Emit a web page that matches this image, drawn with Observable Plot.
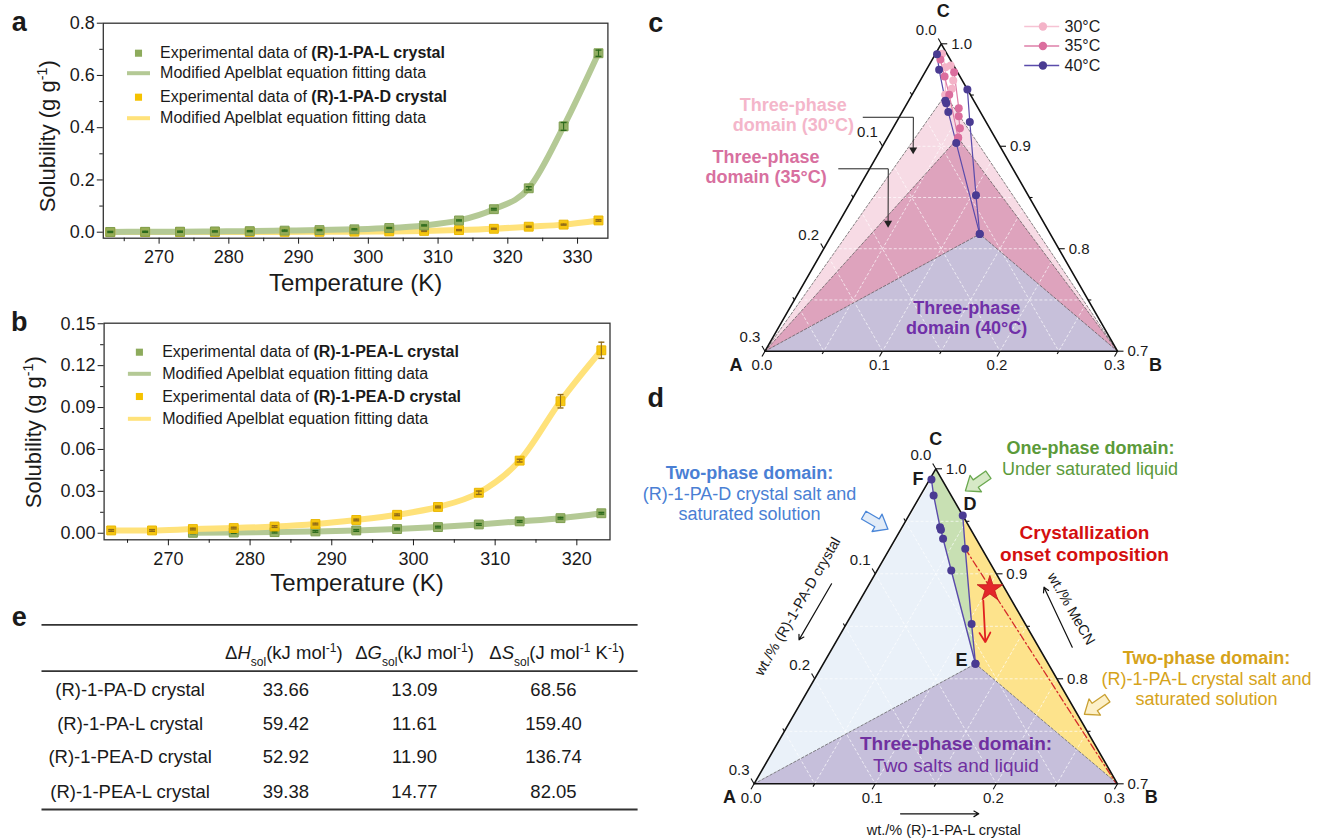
<!DOCTYPE html>
<html><head><meta charset="utf-8">
<script src="https://cdn.jsdelivr.net/npm/d3@7"></script>
<script src="https://cdn.jsdelivr.net/npm/@observablehq/plot@0.6"></script>
<style>
html,body{margin:0;padding:0;background:#fff;}
#fig{position:relative;width:1321px;height:839px;overflow:hidden;background:#fff;}
.panel{position:absolute;}
.panel svg{display:block;overflow:visible;}
</style></head><body><div id="fig"></div>
<script>
// ================= DATA =================
// panel a : (R)-1-PA salts
const tempA   = [263,268,273,278,283,288,293,298,303,308,313,318,323,328,333];
const paL     = [0.001,0.0015,0.002,0.003,0.004,0.006,0.008,0.011,0.016,0.026,0.045,0.088,0.168,0.405,0.685];
const paLErr  = [0.002,0.002,0.002,0.002,0.002,0.002,0.002,0.002,0.002,0.002,0.002,0.003,0.006,0.015,0.012];
const paD     = [0.0003,0.0004,0.0005,0.0007,0.0009,0.0012,0.0016,0.002,0.003,0.005,0.008,0.013,0.021,0.029,0.045];
const paDErr  = [0.002,0.002,0.002,0.002,0.002,0.002,0.002,0.002,0.002,0.002,0.002,0.002,0.002,0.002,0.003];
// panel b : (R)-1-PEA salts
const tempB   = [263,268,273,278,283,288,293,298,303,308,313,318,323];
const peaD    = [0.002,0.002,0.003,0.0037,0.0048,0.0066,0.0095,0.0132,0.0188,0.029,0.052,0.0945,0.131];
const peaDErr = [0.0006,0.0006,0.0006,0.0006,0.0006,0.0006,0.0006,0.0006,0.0006,0.0012,0.001,0.0048,0.0058];
const tempBL  = [273,278,283,288,293,298,303,308,313,318,323];
const peaL    = [0.0003,0.0005,0.0008,0.0013,0.002,0.003,0.0044,0.0063,0.0085,0.0108,0.0143];
const peaLErr = [0.0006,0.0006,0.0006,0.0006,0.0006,0.0006,0.0006,0.0006,0.0006,0.0006,0.0006];
// axis ticks
const xTicksA = [270,280,290,300,310,320,330], xMinorA = [265,275,285,295,305,315,325];
const yTicksA = [0,0.2,0.4,0.6,0.8], yMinorA = [0.1,0.3,0.5,0.7];
const xTicksB = [270,280,290,300,310,320], xMinorB = [265,275,285,295,305,315];
const yTicksB = [0,0.03,0.06,0.09,0.12,0.15], yMinorB = [0.015,0.045,0.075,0.105,0.135];
// ternary (a = wt. fraction (R)-1-PA-D crystal, b = wt. fraction (R)-1-PA-L crystal, MeCN = 1-a-b)
const ternMajor = [0,0.1,0.2,0.3], ternMinor = [0.05,0.15,0.25];
const iso30Left  = [[0.0042,0.0056],[0.0078,0.0150],[0.0214,0.0284]];
const iso30Right = [[0.0026,0.0186],[0.0077,0.0281],[0.0129,0.0310],[0.0214,0.0284]];
const iso35Left  = [[0.0084,0.0069],[0.0131,0.0188],[0.0181,0.0317],[0.0315,0.0603]];
const iso35Right = [[0.0029,0.0248],[0.0165,0.0463],[0.0205,0.0502],[0.0253,0.0571],[0.0315,0.0603]];
const iso40Left  = [[0.0087,0.0015],[0.0145,0.0109],[0.0243,0.0313],[0.0248,0.0333],[0.0273,0.0393],[0.0357,0.0612],[0.0601,0.1256]];
const iso40Right = [[0.0,0.0445],[0.0138,0.0624],[0.0443,0.1034],[0.0601,0.1256]];
const onsetStar  = [0.0125,0.1018];
const onsetPath  = [[0.0235,0.1019],[0.0416,0.1235]];
const tieLine    = [[0.0138,0.0624],[0.001,0.298]];
// table e
const tableRows = ["(R)-1-PA-D crystal","(R)-1-PA-L crystal","(R)-1-PEA-D crystal","(R)-1-PEA-L crystal"];
const dHsol = [33.66,59.42,52.92,39.38];
const dGsol = [13.09,11.61,11.90,14.77];
const dSsol = [68.56,159.40,136.74,82.05];
const tableHeads = ["Δ~{H}_{sol}(kJ mol^{-1})","Δ~{G}_{sol}(kJ mol^{-1})","Δ~{S}_{sol}(J mol^{-1} K^{-1})"];

// ================= HELPERS =================
const fig = document.getElementById("fig");
const FONT = '"Liberation Sans", Arial, Helvetica, sans-serif';
const baseStyle = {fontFamily: FONT, background: "transparent", overflow: "visible", maxWidth: "none", color: "#1a1a1a"};
const SVGNS = "http://www.w3.org/2000/svg";
function richify(root){
  root.querySelectorAll("text").forEach(t => {
    const s = t.textContent;
    if (!/\*\*|\^\{|_\{|~\{/.test(s)) return;
    const parts = s.split(/(\*\*[^*]+\*\*|\^\{[^}]*\}|_\{[^}]*\}|~\{[^}]*\})/g).filter(p => p !== "");
    while (t.firstChild) t.removeChild(t.firstChild);
    for (const p of parts) {
      const ts = document.createElementNS(SVGNS, "tspan");
      if (p.startsWith("**")) { ts.textContent = p.slice(2,-2); ts.setAttribute("font-weight","bold"); }
      else if (p.startsWith("^{")) { ts.textContent = p.slice(2,-1); ts.setAttribute("baseline-shift","super"); ts.setAttribute("font-size","65%"); }
      else if (p.startsWith("_{")) { ts.textContent = p.slice(2,-1); ts.setAttribute("baseline-shift","sub"); ts.setAttribute("font-size","65%"); }
      else if (p.startsWith("~{")) { ts.textContent = p.slice(2,-1); ts.setAttribute("font-style","italic"); }
      else ts.textContent = p;
      t.appendChild(ts);
    }
  });
}
function mount(svg, left, top){
  const d = document.createElement("div"); d.className = "panel";
  d.style.left = left + "px"; d.style.top = top + "px";
  d.appendChild(svg); fig.appendChild(d); richify(svg);
}
const hline = {draw(ctx, size){ const r = Math.sqrt(size/Math.PI); ctx.moveTo(-r,0); ctx.lineTo(r,0); }};
const note = (txt, dx, dy, o = {}) => Plot.text([txt], {text: d => d, frameAnchor: "top-left", dx, dy, textAnchor: "middle", lineAnchor: "middle", ...o});

// ================= PANELS a & b =================
const GREEN = "#8dab5c", GREEN_EDGE = "#7f9e50", GREEN_LINE = "#b4c995", GREEN_ERR = "#2c6a1c";
const YEL = "#f5c200", YEL_EDGE = "#e9b600", YEL_LINE = "#ffe27a", YEL_ERR = "#8f6a1a";
function solPlot(cfg){
  const marks = [
    Plot.frame({stroke: "#333", strokeWidth: 1.3}),
    Plot.axisX(cfg.xMinor, {tickSize: 3.5, tickFormat: () => "", label: null}),
    Plot.axisX(cfg.xTicks, {tickSize: 6, tickPadding: 6.5, fontSize: 18, tickFormat: d => String(d), label: null}),
    Plot.axisY(cfg.yMinor, {tickSize: 3.5, tickFormat: () => "", label: null}),
    Plot.axisY(cfg.yTicks, {tickSize: 6, tickPadding: 2.5, fontSize: 18, tickFormat: cfg.yFmt, label: null})
  ];
  for (const s of cfg.series) marks.push(Plot.line(s.rows, {x: "T", y: "v", curve: "monotone-x", stroke: s.line, strokeWidth: 6, strokeLinecap: "round"}));
  for (const s of cfg.series) {
    marks.push(Plot.dot(s.rows, {x: "T", y: "v", symbol: "square", r: 5, fill: s.fill, fillOpacity: 0.9, stroke: s.edge, strokeWidth: 1}));
    marks.push(Plot.ruleX(s.rows, {x: "T", y1: d => d.v - d.e, y2: d => d.v + d.e, stroke: s.err, strokeWidth: 1.1}));
    marks.push(Plot.dot(s.rows, {x: "T", y: d => d.v + d.e, symbol: hline, r: 3, stroke: s.err, fill: "none", strokeWidth: 1.4}));
    marks.push(Plot.dot(s.rows, {x: "T", y: d => d.v - d.e, symbol: hline, r: 3, stroke: s.err, fill: "none", strokeWidth: 1.4}));
  }
  const L = cfg.legend;
  L.items.forEach((it, i) => {
    const dy = L.rows[i];
    if (it.kind === "dot") marks.push(Plot.dot([0], {frameAnchor: "top-left", dx: L.mx, dy, symbol: "square", r: 4, fill: it.color}));
    else marks.push(Plot.dot([0], {frameAnchor: "top-left", dx: L.mx, dy, symbol: hline, r: 11.5, stroke: it.color, strokeWidth: 4, fill: "none"}));
    marks.push(note(it.text, L.tx, dy, {textAnchor: "start", fontSize: 16}));
  });
  marks.push(Plot.text(["Temperature (K)"], {text: d => d, frameAnchor: "bottom", dy: cfg.xTitleDy, textAnchor: "middle", lineAnchor: "middle", fontSize: 24}));
  marks.push(Plot.text(["Solubility (g g^{-1})"], {text: d => d, frameAnchor: "left", dx: cfg.yTitleDx, dy: cfg.yTitleDy, rotate: -90, textAnchor: "middle", lineAnchor: "middle", fontSize: 22}));
  marks.push(note(cfg.label, cfg.labelDx, cfg.labelDy, {fontWeight: "bold", fontSize: 27}));
  return Plot.plot({
    width: 640, height: 300,
    marginLeft: cfg.m[0], marginRight: cfg.m[1], marginTop: cfg.m[2], marginBottom: cfg.m[3],
    x: {domain: cfg.xDomain}, y: {domain: cfg.yDomain},
    style: {...baseStyle, fontSize: "18px"},
    marks
  });
}
const rowsOf = (T, v, e) => T.map((t, i) => ({T: t, v: v[i], e: e[i]}));

mount(solPlot({
  m: [102.8, 32.6, 22.7, 62.3], xDomain: [262, 334.35], yDomain: [-0.023, 0.8],
  xTicks: xTicksA, xMinor: xMinorA, yTicks: yTicksA, yMinor: yMinorA, yFmt: d3.format(".1f"),
  series: [
    {rows: rowsOf(tempA, paD, paDErr), fill: YEL, edge: YEL_EDGE, line: YEL_LINE, err: YEL_ERR},
    {rows: rowsOf(tempA, paL, paLErr), fill: GREEN, edge: GREEN_EDGE, line: GREEN_LINE, err: GREEN_ERR}
  ],
  legend: {mx: 35.2, tx: 56.8, rows: [30, 50, 74, 95], items: [
    {kind: "dot", color: GREEN, text: "Experimental data of **(R)-1-PA-L crystal**"},
    {kind: "line", color: GREEN_LINE, text: "Modified Apelblat equation fitting data"},
    {kind: "dot", color: YEL, text: "Experimental data of **(R)-1-PA-D crystal**"},
    {kind: "line", color: YEL_LINE, text: "Modified Apelblat equation fitting data"}]},
  xTitleDy: 45, yTitleDx: -55.1, yTitleDy: 5.6, label: "a", labelDx: -84, labelDy: -0.5
}), 0, 0);

mount(solPlot({
  m: [103.6, 30.5, 22.7, 60.7], xDomain: [262.13, 324.06], yDomain: [-0.0047, 0.1504],
  xTicks: xTicksB, xMinor: xMinorB, yTicks: yTicksB, yMinor: yMinorB, yFmt: d3.format(".2f"),
  series: [
    {rows: rowsOf(tempBL, peaL, peaLErr), fill: GREEN, edge: GREEN_EDGE, line: GREEN_LINE, err: GREEN_ERR},
    {rows: rowsOf(tempB, peaD, peaDErr), fill: YEL, edge: YEL_EDGE, line: YEL_LINE, err: YEL_ERR}
  ],
  legend: {mx: 35.3, tx: 58.1, rows: [29, 50.6, 73.3, 95.6], items: [
    {kind: "dot", color: GREEN, text: "Experimental data of **(R)-1-PEA-L crystal**"},
    {kind: "line", color: GREEN_LINE, text: "Modified Apelblat equation fitting data"},
    {kind: "dot", color: YEL, text: "Experimental data of **(R)-1-PEA-D crystal**"},
    {kind: "line", color: YEL_LINE, text: "Modified Apelblat equation fitting data"}]},
  xTitleDy: 43.4, yTitleDx: -70.4, yTitleDy: 0.7, label: "b", labelDx: -84.9, labelDy: -1
}), 0, 300);

// ================= TERNARY HELPERS =================
const S3 = Math.sqrt(3)/2, SPAN = 0.3;
function T(a, b){ const wA = a/SPAN, wB = b/SPAN, wC = 1 - wA - wB; return {x: wB + 0.5*wC, y: S3*wC}; }
const pts = arr => arr.map(([a, b]) => T(a, b));
const A0 = T(SPAN, 0), B0 = T(0, SPAN), C0 = T(0, 0);
const fmt1 = d3.format(".1f");
function ternFrameMarks(){
  const grid = [];
  for (const v of [0.05,0.1,0.15,0.2,0.25]) {
    grid.push([T(v,0), T(v,SPAN-v)], [T(0,v), T(SPAN-v,v)], [T(v,0), T(0,v)]);
  }
  return [Plot.link(grid, {x1: d => d[0].x, y1: d => d[0].y, x2: d => d[1].x, y2: d => d[1].y,
    stroke: "#ffffff", strokeWidth: 0.8, strokeDasharray: "3,2", strokeOpacity: 0.85})];
}
function ternAxisMarks(opt){
  const marks = [];
  const all = [...ternMajor, ...ternMinor];
  const len = v => (ternMajor.includes(v) ? 0.017 : 0.009);
  const ticks = [];
  for (const v of all) {
    const pl = T(v, 0); ticks.push({x1: pl.x, y1: pl.y, x2: pl.x - 0.5*len(v), y2: pl.y + S3*len(v)});
    const pr = T(0, v); ticks.push({x1: pr.x, y1: pr.y, x2: pr.x + len(v), y2: pr.y});
    const pb = T(SPAN - v, v); ticks.push({x1: pb.x, y1: pb.y, x2: pb.x - 0.5*len(v), y2: pb.y - S3*len(v)});
  }
  marks.push(Plot.line([A0, B0, C0, A0], {x: "x", y: "y", stroke: "#111", strokeWidth: 1.6}));
  marks.push(Plot.link(ticks, {x1: "x1", y1: "y1", x2: "x2", y2: "y2", stroke: "#111", strokeWidth: 1.1}));
  marks.push(Plot.text(ternMajor, {x: v => T(v,0).x, y: v => T(v,0).y, text: fmt1, dx: -15, dy: -14, fontSize: 15}));
  marks.push(Plot.text(ternMajor, {x: v => T(0,v).x, y: v => T(0,v).y, text: v => fmt1(1 - v), dx: 10, textAnchor: "start", fontSize: 15}));
  marks.push(Plot.text(ternMajor, {x: v => T(SPAN-v,v).x, y: v => T(SPAN-v,v).y, text: fmt1, dx: -3, dy: 14, fontSize: 15}));
  marks.push(Plot.text(["A"], {x: A0.x, y: A0.y, text: d => d, dx: opt.Adx, dy: opt.Ady, fontWeight: "bold", fontSize: 18}));
  marks.push(Plot.text(["B"], {x: B0.x, y: B0.y, text: d => d, dx: opt.Bdx, dy: opt.Bdy, fontWeight: "bold", fontSize: 18}));
  marks.push(Plot.text(["C"], {x: C0.x, y: C0.y, text: d => d, dx: opt.Cdx, dy: opt.Cdy, fontWeight: "bold", fontSize: 18}));
  return marks;
}
const isoLine = (arr, color, w = 1.2) => Plot.line(pts(arr), {x: "x", y: "y", stroke: color, strokeWidth: w});
const isoDots = (arr, color, r = 4) => Plot.dot(pts(arr), {x: "x", y: "y", r, fill: color, stroke: "none"});
const last = a => a[a.length - 1];

// ================= PANEL c =================
{
  const E30 = T(...last(iso30Left)), E35 = T(...last(iso35Left)), E40 = T(...last(iso40Left));
  const P30 = "#f4b3c8", P35 = "#db6e9e", P40 = "#4a3b92";
  const marks = [
    Plot.line([A0, B0, E30], {x: "x", y: "y", fill: "#f7dbe5", stroke: "none"}),
    Plot.line([A0, B0, E35], {x: "x", y: "y", fill: "#dea3bd", stroke: "none"}),
    Plot.line([A0, B0, E40], {x: "x", y: "y", fill: "#c7c0da", stroke: "none"}),
    ...ternFrameMarks(),
    Plot.line([A0, E30, B0], {x: "x", y: "y", stroke: "#555", strokeWidth: 0.7, strokeDasharray: "2.5,2"}),
    Plot.line([A0, E35, B0], {x: "x", y: "y", stroke: "#555", strokeWidth: 0.7, strokeDasharray: "2.5,2"}),
    Plot.line([A0, E40, B0], {x: "x", y: "y", stroke: "#555", strokeWidth: 0.7, strokeDasharray: "2.5,2"}),
    ...ternAxisMarks({Adx: -29, Ady: 14.3, Bdx: 38, Bdy: 14.3, Cdx: 2, Cdy: -33}),
    isoLine(iso30Left, "#f6c3d4"), isoLine(iso30Right, "#f6c3d4"),
    isoLine(iso35Left, "#de7fa8"), isoLine(iso35Right, "#de7fa8"),
    isoLine(iso40Left, "#5a4bab"), isoLine(iso40Right, "#5a4bab"),
    isoDots(iso30Left, P30), isoDots(iso30Right, P30),
    isoDots(iso35Left, P35), isoDots(iso35Right, P35),
    isoDots(iso40Left, P40), isoDots(iso40Right, P40)
  ];
  [["30°C", P30, "#f6c3d4"], ["35°C", P35, "#de7fa8"], ["40°C", P40, "#5a4bab"]].forEach(([t, c, l], i) => {
    const dy = -17.3 + 19.5*i;
    marks.push(Plot.dot([0], {frameAnchor: "top-left", dx: 276.7, dy, symbol: hline, r: 17.5, stroke: l, strokeWidth: 1.5, fill: "none"}));
    marks.push(Plot.dot([0], {frameAnchor: "top-left", dx: 277.9, dy, r: 4.2, fill: c}));
    marks.push(note(t, 299.5, dy, {textAnchor: "start", fontSize: 16}));
  });
  const conn30 = [[0.1023,-0.0306],[0.0596,0.0121],[0.0768,0.0290]];
  const conn35 = [[0.1483,-0.0263],[0.1061,0.0159],[0.1339,0.0434]];
  for (const c of [conn30, conn35]) {
    marks.push(Plot.line(pts(c), {x: "x", y: "y", stroke: "#222", strokeWidth: 1}));
    marks.push(Plot.dot([T(...last(c))], {x: "x", y: "y", symbol: "triangle", r: 3, rotate: 180, fill: "#222", dy: -2.5}));
  }
  const lab = {fontWeight: "bold", fontSize: 18};
  marks.push(note("Three-phase", 28.3, 61.2, {fill: "#f4b6ca", ...lab}));
  marks.push(note("domain (30°C)", 28.3, 81.7, {fill: "#f4b6ca", ...lab}));
  marks.push(note("Three-phase", 1.1, 113.1, {fill: "#d8709f", ...lab}));
  marks.push(note("domain (35°C)", 1.1, 133.6, {fill: "#d8709f", ...lab}));
  marks.push(note("Three-phase", 201.8, 264.4, {fill: "#7030a8", ...lab}));
  marks.push(note("domain (40°C)", 201.6, 284.9, {fill: "#7030a8", ...lab}));
  marks.push(note("c", -109.3, -20, {fontWeight: "bold", fontSize: 27}));
  mount(Plot.plot({
    width: 681, height: 385, marginLeft: 124.5, marginRight: 204, marginTop: 43.3, marginBottom: 34.3,
    x: {domain: [0, 1], axis: null}, y: {domain: [0, S3], axis: null},
    style: baseStyle, marks
  }), 640, 0);
}

// ================= PANEL d =================
{
  const E = T(...last(iso40Left));
  const marks = [
    Plot.line([A0, ...pts(iso40Left)], {x: "x", y: "y", fill: "#eaf1f9", stroke: "none"}),
    Plot.line([C0, ...pts(iso40Left), ...pts(iso40Right).reverse()], {x: "x", y: "y", fill: "#c8e0b3", stroke: "none"}),
    Plot.line([...pts(iso40Right), B0], {x: "x", y: "y", fill: "#fde38c", stroke: "none"}),
    Plot.line([A0, E, B0], {x: "x", y: "y", fill: "#c6bfdb", stroke: "none"}),
    ...ternFrameMarks(),
    Plot.line([A0, E, B0], {x: "x", y: "y", stroke: "#555", strokeWidth: 0.7, strokeDasharray: "2.5,2"}),
    Plot.line(pts(tieLine), {x: "x", y: "y", stroke: "#d42a2a", strokeWidth: 1.3, strokeDasharray: "7,3,1.5,3"}),
    ...ternAxisMarks({Adx: -24.7, Ady: 13.4, Bdx: 33.8, Bdy: 13.4, Cdx: 0, Cdy: -30}),
    isoLine(iso40Left, "#5a4bab", 1.4), isoLine(iso40Right, "#5a4bab", 1.4),
    isoDots(iso40Left, "#4a3b92", 4), isoDots(iso40Right, "#4a3b92", 4),
    Plot.arrow([pts(onsetPath)], {x1: d => d[0].x, y1: d => d[0].y, x2: d => d[1].x, y2: d => d[1].y, stroke: "#e02020", strokeWidth: 1.8, headLength: 9}),
    Plot.dot([T(...onsetStar)], {x: "x", y: "y", symbol: "star", r: 8, fill: "#e3262a", stroke: "#c01818", strokeWidth: 0.8})
  ];
  const axArrows = [
    [[0.1408,-0.0313],[0.1944,-0.0315]],
    [[-0.0277,0.1976],[-0.0329,0.1457]],
    [[0.1934,0.1352],[0.1288,0.1998]]
  ];
  marks.push(Plot.arrow(axArrows.map(pts), {x1: d => d[0].x, y1: d => d[0].y, x2: d => d[1].x, y2: d => d[1].y, stroke: "#111", strokeWidth: 1.2, headLength: 7}));
  const axTitles = [
    {p: T(0.1796,-0.0484), t: "wt./% (R)-1-PA-D crystal", r: -60},
    {p: T(-0.0451,0.1784), t: "wt./% MeCN", r: 60},
    {p: T(0.1657,0.1788), t: "wt./% (R)-1-PA-L crystal", r: 0}
  ];
  for (const a of axTitles) marks.push(Plot.text([a], {x: d => d.p.x, y: d => d.p.y, text: "t", rotate: a.r, fontSize: 14.5}));
  const blockArrow = {draw(ctx, l, r){
    const s = r*0.45, h = r, hl = l*0.45;
    ctx.moveTo(-s, 0); ctx.lineTo(-s, -(l-hl)); ctx.lineTo(-h, -(l-hl)); ctx.lineTo(0, -l);
    ctx.lineTo(h, -(l-hl)); ctx.lineTo(s, -(l-hl)); ctx.lineTo(s, 0); ctx.closePath();
  }};
  [[0.0749,-0.0241,120,"#e2ecf8","#4a86d8"],[-0.0273,0.0406,235,"#d6e9c6","#6aa84f"],[-0.0191,0.2452,235,"#fdf0c8","#c9a032"]]
    .forEach(([a, b, rot, f, s]) => marks.push(Plot.vector([T(a, b)], {x: "x", y: "y", length: 28, rotate: rot, shape: blockArrow, r: 10, anchor: "middle", fill: f, stroke: s, strokeWidth: 1.3})));
  marks.push(note("F", 163.9, 10, {fontWeight: "bold", fontSize: 18}));
  marks.push(note("D", 216, 35, {fontWeight: "bold", fontSize: 18}));
  marks.push(note("E", 207.3, 191.7, {fontWeight: "bold", fontSize: 18}));
  const BLUE = "#4a7fd4", GRN = "#5b9a3a", RED = "#d40f0f", GOLD = "#d6a31a", PUR = "#7030a0";
  marks.push(note("Two-phase domain:", -4.6, 4.8, {fill: BLUE, fontWeight: "bold", fontSize: 18}));
  marks.push(note("(R)-1-PA-D crystal salt and", -4.6, 25.3, {fill: BLUE, fontSize: 18}));
  marks.push(note("saturated solution", -4.6, 45.8, {fill: BLUE, fontSize: 18}));
  marks.push(note("One-phase domain:", 336.3, -20.5, {fill: GRN, fontWeight: "bold", fontSize: 18}));
  marks.push(note("Under saturated liquid", 335.9, 0, {fill: GRN, fontSize: 18}));
  marks.push(note("Crystallization", 330.4, 64.3, {fill: RED, fontWeight: "bold", fontSize: 19}));
  marks.push(note("onset composition", 330.4, 85.8, {fill: RED, fontWeight: "bold", fontSize: 19}));
  marks.push(note("Two-phase domain:", 452.4, 189.5, {fill: GOLD, fontWeight: "bold", fontSize: 18}));
  marks.push(note("(R)-1-PA-L crystal salt and", 452.4, 210, {fill: GOLD, fontSize: 18}));
  marks.push(note("saturated solution", 452.4, 230.5, {fill: GOLD, fontSize: 18}));
  marks.push(note("Three-phase domain:", 201.9, 275.5, {fill: PUR, fontWeight: "bold", fontSize: 19}));
  marks.push(note("Two salts and liquid", 201.9, 297, {fill: PUR, fontSize: 19}));
  marks.push(note("d", -98.4, -70, {fontWeight: "bold", fontSize: 27}));
  mount(Plot.plot({
    width: 681, height: 454, marginLeft: 113.6, marginRight: 204, marginTop: 83.3, marginBottom: 55.7,
    x: {domain: [0, 1], axis: null}, y: {domain: [0, S3], axis: null},
    style: baseStyle, marks
  }), 640, 385);
}

// ================= TABLE e =================
{
  const colX = [129.6, 285.4, 414, 553];
  const headX = [283.4, 414, 556.5];
  const rowY = [89.3, 123.3, 156.7, 191.7];
  const f2 = d3.format(".2f");
  const cells = [];
  tableRows.forEach((name, i) => {
    cells.push({x: colX[0], y: rowY[i], t: name});
    cells.push({x: colX[1], y: rowY[i], t: f2(dHsol[i])});
    cells.push({x: colX[2], y: rowY[i], t: f2(dGsol[i])});
    cells.push({x: colX[3], y: rowY[i], t: f2(dSsol[i])});
  });
  const heads = tableHeads.map((t, j) => ({x: headX[j], y: 52.7, t}));
  mount(Plot.plot({
    width: 640, height: 239, margin: 0,
    x: {type: "identity", axis: null}, y: {type: "identity", axis: null},
    style: baseStyle,
    marks: [
      Plot.ruleY([24.3, 70.7, 209], {x1: 41.5, x2: 637.6, stroke: "#333", strokeWidth: 1.8}),
      Plot.text(heads, {x: "x", y: "y", text: "t", fontSize: 18.5}),
      Plot.text(cells, {x: "x", y: "y", text: "t", fontSize: 18.5}),
      Plot.text(["e"], {x: 18.7, y: 17, text: d => d, fontWeight: "bold", fontSize: 27})
    ]
  }), 0, 600);
}
</script></body></html>
